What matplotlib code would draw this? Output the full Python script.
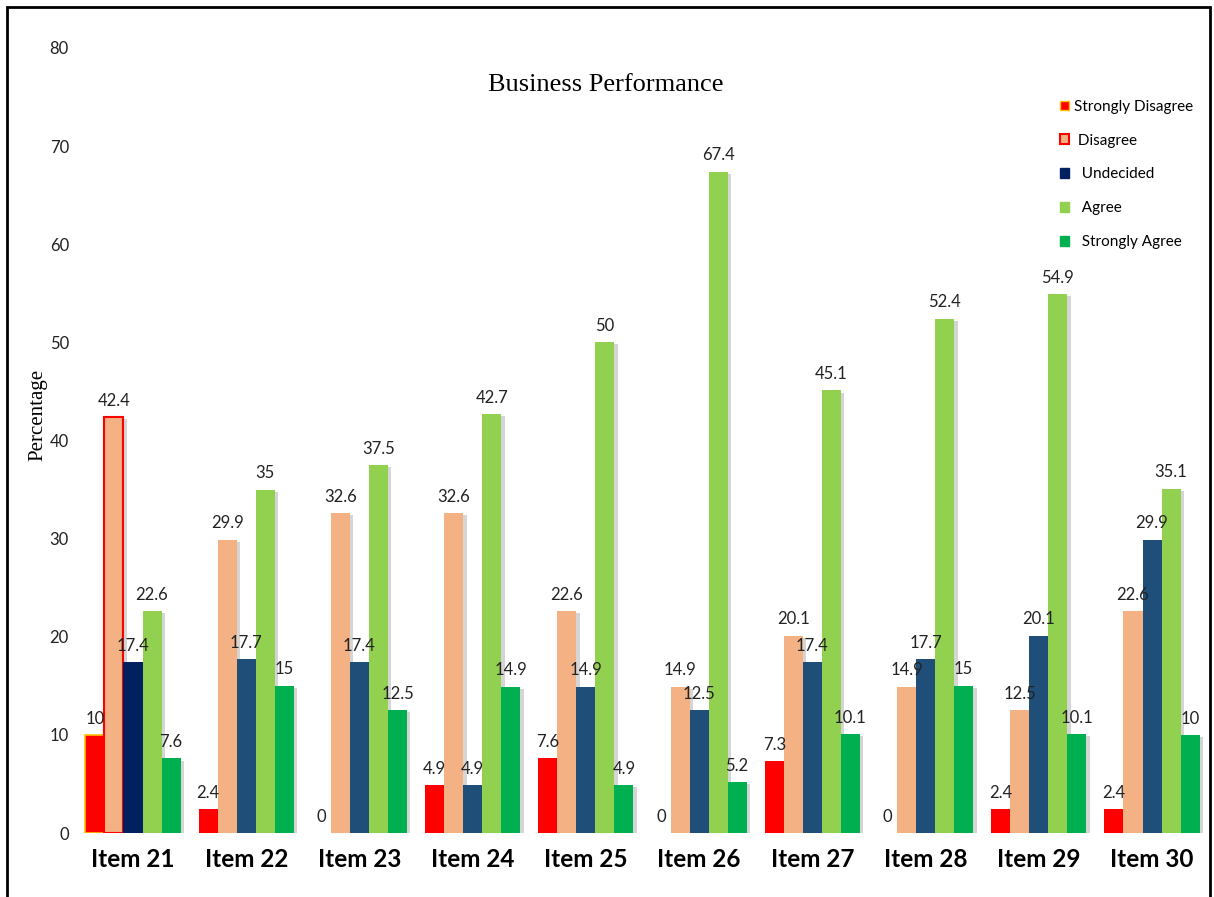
import numpy as np
import matplotlib
matplotlib.use('Agg')
from matplotlib import pyplot as plt
from matplotlib.patches import Patch, Rectangle
import matplotlib.patheffects as pe

# data
items = ['Item 21', 'Item 22', 'Item 23', 'Item 24', 'Item 25',
         'Item 26', 'Item 27', 'Item 28', 'Item 29', 'Item 30']
strongly_disagree = [10, 2.4, 0, 4.9, 7.6, 0, 7.3, 0, 2.4, 2.4]
disagree = [42.4, 29.9, 32.6, 32.6, 22.6, 14.9, 20.1, 14.9, 12.5, 22.6]
undecided = [17.4, 17.7, 17.4, 4.9, 14.9, 12.5, 17.4, 17.7, 20.1, 29.9]
agree = [22.6, 35, 37.5, 42.7, 50, 67.4, 45.1, 52.4, 54.9, 35.1]
strongly_agree = [7.6, 15, 12.5, 14.9, 4.9, 5.2, 10.1, 15, 10.1, 10]
series_names = ['Strongly Disagree', ' Disagree', '  Undecided', '  Agree', '  Strongly Agree']

series = [strongly_disagree, disagree, undecided, agree, strongly_agree]
colors = ['#FF0000', '#F4B183', '#1F4E79', '#92D050', '#00B050']

fig = plt.figure(figsize=(12.14, 8.97), dpi=100)
ax = fig.add_axes([80 / 1214, 1 - 833 / 897, 1125 / 1214, 785 / 897])

x = np.arange(len(items))
w = 0.168
shadow = [pe.SimplePatchShadow(offset=(2.5, -1.5), shadow_rgbFace='#888888', alpha=0.35), pe.Normal()]

for i, (vals, col) in enumerate(zip(series, colors)):
    pos = x + (i - 2) * w
    face = [col] * len(items)
    edge = [col] * len(items)
    lw = [0] * len(items)
    # first group is drawn with slightly different styling
    if i == 0:
        edge[0] = '#FFC000'
        lw[0] = 1.2
    if i == 1:
        edge[0] = '#FF0000'
        lw[0] = 1.5
    if i == 2:
        face[0] = '#002060'
    bars = ax.bar(pos, vals, w, color=face, edgecolor=edge, linewidth=lw, zorder=2)
    for b, v in zip(bars, vals):
        if v > 0:
            b.set_path_effects(shadow)
    for p, v in zip(pos, vals):
        ax.annotate(f'{v:g}', (p, v), xytext=(0, 6), textcoords='offset points',
                    ha='center', va='bottom', fontsize=12, family='Lato', color='#222222', zorder=3)

ax.set_xlim(-0.468, 9.468)
ax.set_ylim(0, 80)
ax.set_yticks(range(0, 81, 10))
ax.set_xticks(x)
ax.set_xticklabels(items, fontsize=17.5, fontweight='bold', family='Lato')
ax.tick_params(axis='y', length=0, pad=8, labelsize=12, labelcolor='#222222')
ax.tick_params(axis='x', length=0, pad=11)
for lab in ax.get_yticklabels():
    lab.set_family('Lato')
for s in ax.spines.values():
    s.set_visible(False)

fig.text(606 / 1214, 1 - 85 / 897, 'Business Performance', ha='center', va='center',
         fontsize=19, family='Liberation Serif')
fig.text(38 / 1214, 1 - 415 / 897, 'Percentage', ha='center', va='center', rotation=90,
         fontsize=15, family='Liberation Serif')

handles = [Patch(facecolor='#FF0000', edgecolor='#FFC000'),
           Patch(facecolor='#F4B183', edgecolor='#FF0000', linewidth=1.5),
           Patch(facecolor='#002060', edgecolor='#002060'),
           Patch(facecolor='#92D050', edgecolor='#92D050'),
           Patch(facecolor='#00B050', edgecolor='#00B050')]
leg = fig.legend(handles, series_names, loc='upper left', bbox_to_anchor=(1046 / 1214, 1 - 86 / 897),
                 frameon=False, handlelength=0.6, handleheight=0.6,
                 handletextpad=0.3, labelspacing=1.3, prop={'family': 'Lato', 'size': 11})

fig.add_artist(Rectangle((7 / 1214, -0.02), 1203 / 1214, 1.02 - 7 / 897, transform=fig.transFigure,
                         fill=False, edgecolor='black', linewidth=2))

fig.savefig('out.png', dpi=100)
